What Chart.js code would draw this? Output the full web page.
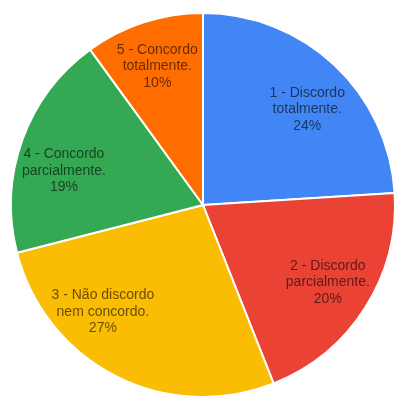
<!DOCTYPE html>
<html>
<head>
<meta charset="utf-8">
<script src="https://cdn.jsdelivr.net/npm/chart.js@4/dist/chart.umd.min.js"></script>
<style>
  html, body { margin: 0; padding: 0; background: #fff; overflow: hidden; }
  #wrap { width: 394px; height: 397px; overflow: hidden; position: relative; }
  #box { position: absolute; left: 0; top: 0; width: 406px; height: 408px; }
</style>
</head>
<body>
<div id="wrap"><div id="box"><canvas id="graficoPizza"></canvas></div></div>
<script>
// respostas da escala de concordância
const categorias = [
    ['1 - Discordo', 'totalmente.'],
    ['2 - Discordo', 'parcialmente.'],
    ['3 - Não discordo', 'nem concordo.'],
    ['4 - Concordo', 'parcialmente.'],
    ['5 - Concordo', 'totalmente.']
];
const percentuais = [24, 20, 27, 19, 10];
const cores = ['#4285f4', '#ea4335', '#fbbc04', '#34a853', '#ff6d01'];

// escreve nome + percentual dentro de cada fatia
const rotulosFatia = {
    id: 'rotulosFatia',
    afterDatasetsDraw(chart) {
        const ctx = chart.ctx;
        const meta = chart.getDatasetMeta(0);
        const dados = chart.data.datasets[0].data;
        const total = dados.reduce((a, b) => a + b, 0);
        // o rótulo da fatia amarela fica mais para a esquerda
        const ajuste = { 2: [-33, -25], 0: [3, 12], 3: [0, 16], 1: [0, -2] };
        ctx.save();
        ctx.font = '14px "Liberation Sans", Arial, sans-serif';
        ctx.fillStyle = 'rgba(0, 0, 0, 0.6)';
        ctx.textAlign = 'center';
        ctx.textBaseline = 'middle';
        meta.data.forEach((arc, i) => {
            const { x, y, startAngle, endAngle, outerRadius } = arc.getProps(['x', 'y', 'startAngle', 'endAngle', 'outerRadius'], true);
            const meio = (startAngle + endAngle) / 2;
            const r = outerRadius * 0.77;
            const d = ajuste[i] || [0, 2];
            const cx = x + Math.cos(meio) * r + d[0];
            const cy = y + Math.sin(meio) * r + d[1];
            const linhas = chart.data.labels[i].concat([Math.round(dados[i] / total * 100) + '%']);
            const alt = 16.5;
            linhas.forEach((t, k) => {
                ctx.fillText(t, cx, cy + (k - (linhas.length - 1) / 2) * alt);
            });
        });
        ctx.restore();
    }
};

new Chart(document.getElementById('graficoPizza'), {
    type: 'pie',
    data: {
        labels: categorias,
        datasets: [{
            data: percentuais,
            backgroundColor: cores,
            borderColor: '#ffffff',
            borderWidth: 2,
            radius: 192
        }]
    },
    options: {
        responsive: true,
        maintainAspectRatio: false,
        animation: false,
        layout: { padding: { left: 11, right: 11, top: 13, bottom: 11 } },
        plugins: {
            legend: { display: false },
            tooltip: { enabled: false }
        }
    },
    plugins: [rotulosFatia]
});
</script>
</body>
</html>
